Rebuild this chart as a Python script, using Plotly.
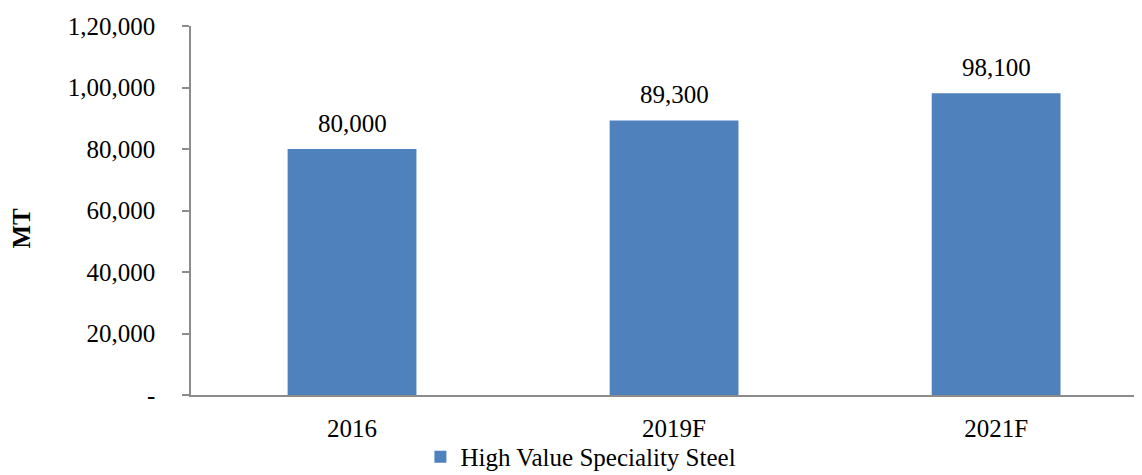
import plotly.graph_objects as go

categories = ["2016", "2019F", "2021F"]
values = [80000, 89300, 98100]
value_labels = ["80,000", "89,300", "98,100"]
y_tickvals = [0, 20000, 40000, 60000, 80000, 100000, 120000]
y_ticktext = ["-", "20,000", "40,000", "60,000", "80,000", "1,00,000", "1,20,000"]
series_name = "High Value Speciality Steel"

FONT = "Liberation Serif, Times New Roman, serif"
BAR = "#4F81BD"
AXIS = "#8C8C8C"

fig = go.Figure()
fig.add_trace(go.Bar(
    x=categories, y=values, name=series_name,
    marker=dict(color=BAR, line=dict(width=0)),
    width=0.40, showlegend=True,
))

for i, (v, t) in enumerate(zip(values, value_labels)):
    fig.add_annotation(x=i, y=v, text=t, showarrow=False, yanchor="bottom",
                       yshift=10, font=dict(family=FONT, size=25, color="black"))

fig.add_annotation(xref="paper", yref="paper", x=-0.178, y=0.453, text="<b>MT</b>",
                   textangle=-90, showarrow=False, xanchor="center", yanchor="middle",
                   font=dict(family=FONT, size=25, color="black"))

fig.update_layout(
    width=1134, height=467,
    margin=dict(l=183, r=0, t=18, b=80, autoexpand=False),
    paper_bgcolor="white", plot_bgcolor="white",
    font=dict(family=FONT, size=25, color="black"),
    bargap=0.6,
    legend=dict(orientation="h", x=0.41, xanchor="center", y=-0.168, yanchor="middle",
                font=dict(family=FONT, size=25, color="black"),
                itemwidth=30, bgcolor="rgba(0,0,0,0)"),
    xaxis=dict(type="category", range=[-0.5, 2.453], showline=True, linecolor=AXIS, linewidth=1.5,
               ticks="", showgrid=False, zeroline=False, ticklabelstandoff=10, automargin=False,
               tickfont=dict(family=FONT, size=25, color="black")),
    yaxis=dict(range=[0, 120000], tickvals=y_tickvals, ticktext=y_ticktext,
               showline=True, linecolor=AXIS, linewidth=1.5, ticks="outside",
               ticklen=7, tickcolor=AXIS, tickwidth=1.5, showgrid=False, zeroline=False,
               ticklabelstandoff=22, automargin=False,
               tickfont=dict(family=FONT, size=25, color="black")),
)

fig.write_html("out.html")
